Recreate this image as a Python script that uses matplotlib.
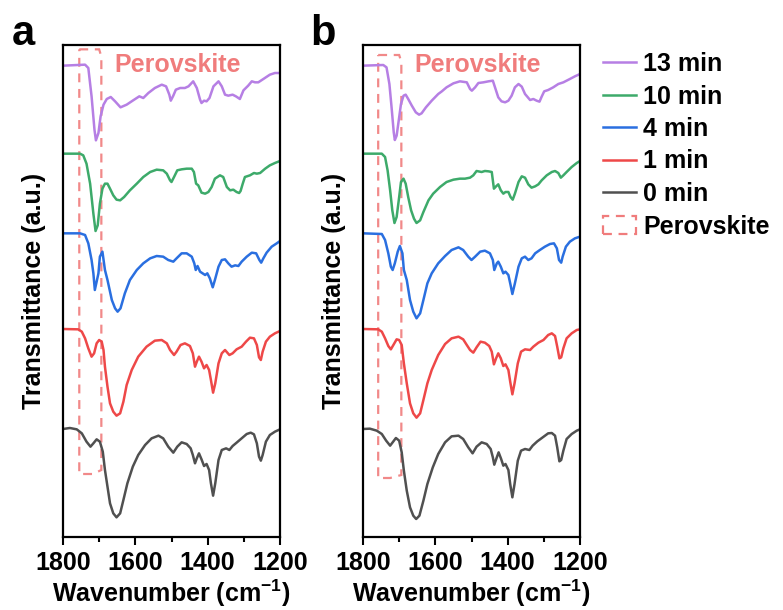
import matplotlib
matplotlib.use('Agg')
import matplotlib.pyplot as plt
from matplotlib.patches import Polygon, Patch
from matplotlib.lines import Line2D

# ---------------- data (wavenumber in cm-1, transmittance in a.u.) ----------------
LABELS = ['13 min', '10 min', '4 min', '1 min', '0 min']
OFFSETS = [1090, 826, 587, 300, 0]

# panel a
A13_WN = [1800,1739,1730,1721,1713,1709,1702,1696,1688,1679,1668,1656,1641,1624,1606,1589,1578,1564,1546,1527,1515,1506,1502,1495,1488,1476,1463,1453,1440,1430,1421,1417,1410,1403,1395,1384,1370,1361,1352,1343,1331,1322,1315,1311,1306,1301,1288,1278,1269,1260,1246,1228,1214,1200]
A13_T = [0,3,-7,-92,-192,-224,-202,-152,-117,-100,-94,-107,-125,-117,-104,-92,-97,-82,-67,-57,-62,-87,-105,-90,-72,-67,-67,-62,-47,-67,-102,-112,-105,-107,-97,-62,-47,-62,-87,-90,-87,-92,-97,-100,-87,-74,-60,-47,-50,-50,-40,-27,-22,-22]

A10_WN = [1800,1753,1744,1735,1725,1716,1710,1704,1698,1691,1684,1677,1670,1661,1652,1642,1631,1615,1596,1578,1559,1541,1523,1513,1504,1500,1493,1484,1472,1458,1444,1438,1432,1426,1417,1407,1398,1389,1380,1366,1357,1347,1338,1329,1320,1313,1309,1303,1297,1283,1272,1264,1255,1241,1228,1214,1200]
A10_T = [0,0,-5,-30,-90,-180,-232,-215,-150,-105,-90,-90,-105,-125,-138,-140,-130,-110,-90,-70,-55,-48,-50,-60,-80,-85,-70,-50,-47,-45,-45,-55,-90,-95,-117,-120,-115,-100,-75,-65,-70,-100,-110,-108,-115,-118,-112,-90,-70,-65,-58,-60,-58,-45,-35,-28,-22]

A4_WN = [1800,1753,1739,1730,1721,1716,1712,1702,1698,1691,1684,1677,1665,1656,1649,1641,1629,1615,1596,1578,1559,1541,1523,1509,1495,1486,1472,1458,1444,1437,1433,1428,1421,1414,1407,1401,1394,1386,1380,1370,1361,1352,1343,1334,1324,1315,1306,1292,1278,1266,1257,1252,1246,1237,1223,1209,1200]
A4_T = [0,0,-5,-30,-80,-120,-170,-120,-70,-55,-110,-140,-200,-225,-235,-225,-180,-140,-110,-90,-75,-68,-70,-80,-85,-75,-60,-60,-70,-90,-110,-98,-115,-120,-125,-120,-135,-162,-140,-100,-80,-78,-90,-100,-96,-98,-85,-70,-58,-60,-80,-88,-75,-58,-40,-30,-23]

A1_WN = [1800,1758,1748,1739,1730,1721,1714,1707,1700,1693,1688,1684,1677,1670,1661,1652,1642,1633,1624,1610,1592,1569,1546,1527,1513,1504,1493,1486,1475,1463,1449,1441,1435,1430,1424,1417,1410,1403,1396,1391,1385,1379,1370,1361,1352,1340,1331,1320,1306,1294,1283,1272,1264,1258,1253,1248,1239,1228,1214,1200]
A1_T = [0,-1,-8,-28,-58,-83,-73,-43,-33,-38,-63,-113,-173,-223,-248,-260,-253,-218,-168,-123,-83,-53,-35,-33,-43,-63,-78,-68,-48,-43,-51,-73,-113,-98,-83,-98,-118,-108,-123,-153,-191,-163,-103,-73,-63,-78,-73,-61,-53,-38,-26,-28,-48,-85,-93,-68,-38,-23,-13,-6]

A0_WN = [1800,1781,1762,1748,1735,1724,1716,1707,1698,1690,1684,1677,1670,1661,1652,1642,1633,1622,1607,1592,1573,1555,1536,1523,1509,1495,1484,1472,1458,1447,1441,1435,1430,1424,1417,1410,1403,1396,1391,1385,1379,1370,1361,1349,1340,1331,1320,1306,1292,1281,1272,1264,1258,1253,1248,1239,1228,1214,1200]
A0_T = [0,3,-1,-13,-38,-53,-43,-31,-38,-68,-123,-173,-223,-253,-265,-253,-213,-163,-113,-78,-48,-28,-20,-28,-53,-71,-53,-40,-45,-58,-78,-103,-88,-73,-91,-111,-105,-123,-163,-200,-163,-93,-63,-58,-63,-51,-41,-28,-15,-11,-16,-43,-83,-95,-78,-38,-18,-8,-1]

# panel b
B13_WN = [1800,1744,1735,1727,1721,1715,1712,1707,1700,1695,1688,1682,1675,1665,1654,1645,1638,1626,1610,1592,1582,1569,1550,1532,1513,1504,1499,1490,1481,1467,1453,1441,1435,1426,1417,1407,1398,1389,1380,1370,1361,1352,1338,1329,1320,1312,1306,1299,1288,1274,1260,1246,1228,1214,1200]
B13_T = [0,2,-5,-55,-125,-200,-223,-210,-155,-115,-90,-87,-100,-120,-140,-147,-143,-125,-105,-85,-77,-65,-53,-47,-50,-70,-75,-65,-52,-50,-47,-45,-65,-95,-107,-110,-105,-90,-65,-55,-63,-85,-103,-100,-105,-108,-93,-77,-73,-65,-55,-50,-40,-32,-25]

B10_WN = [1800,1748,1739,1732,1725,1719,1713,1707,1700,1695,1688,1682,1675,1667,1659,1652,1642,1633,1619,1606,1587,1569,1550,1532,1518,1504,1495,1486,1472,1463,1453,1444,1438,1432,1426,1419,1412,1406,1398,1392,1386,1380,1370,1361,1352,1343,1334,1324,1315,1306,1292,1278,1269,1260,1253,1246,1237,1223,1209,1200]
B10_T = [0,0,-10,-50,-110,-170,-208,-190,-130,-85,-75,-90,-130,-170,-195,-208,-200,-175,-140,-120,-100,-85,-78,-75,-75,-72,-65,-52,-55,-52,-53,-55,-105,-98,-92,-110,-120,-115,-115,-130,-138,-120,-85,-68,-72,-92,-102,-98,-92,-80,-65,-55,-52,-58,-72,-65,-55,-40,-28,-22]

B4_WN = [1800,1748,1739,1730,1723,1718,1712,1704,1698,1691,1687,1679,1670,1661,1652,1642,1633,1622,1610,1592,1573,1555,1536,1523,1509,1500,1490,1476,1463,1449,1441,1437,1430,1426,1419,1412,1406,1398,1392,1387,1380,1370,1361,1352,1343,1334,1324,1311,1297,1283,1272,1264,1258,1252,1248,1239,1228,1214,1200]
B4_T = [0,-2,-20,-60,-100,-110,-90,-55,-38,-60,-110,-140,-200,-235,-255,-240,-200,-150,-120,-90,-68,-50,-42,-50,-70,-80,-70,-55,-52,-60,-80,-110,-90,-85,-100,-120,-115,-125,-155,-182,-150,-100,-75,-70,-80,-75,-60,-50,-40,-32,-30,-45,-80,-88,-70,-40,-25,-15,-10]

B1_WN = [1800,1758,1748,1739,1730,1723,1716,1707,1700,1693,1687,1679,1670,1661,1652,1642,1633,1622,1610,1592,1573,1555,1536,1523,1513,1504,1495,1486,1475,1463,1451,1444,1438,1432,1426,1419,1412,1406,1398,1393,1387,1381,1372,1363,1352,1338,1329,1315,1301,1288,1278,1269,1263,1257,1252,1246,1237,1223,1209,1200]
B1_T = [0,-1,-8,-28,-51,-61,-48,-31,-33,-48,-103,-163,-223,-253,-266,-253,-213,-163,-123,-78,-45,-28,-23,-31,-48,-63,-71,-55,-38,-41,-51,-68,-106,-88,-73,-88,-111,-106,-123,-158,-196,-163,-103,-68,-61,-63,-53,-41,-33,-18,-13,-21,-53,-88,-85,-58,-28,-13,-3,-1]

B0_WN = [1800,1781,1762,1748,1736,1725,1718,1709,1700,1693,1687,1679,1670,1661,1653,1644,1633,1622,1607,1592,1573,1555,1536,1523,1509,1497,1486,1472,1458,1447,1441,1437,1430,1425,1418,1412,1406,1398,1393,1387,1381,1372,1363,1352,1340,1331,1318,1303,1288,1278,1269,1263,1257,1252,1246,1237,1223,1209,1200]
B0_T = [0,1,-5,-15,-35,-50,-40,-27,-35,-70,-125,-185,-235,-260,-270,-260,-215,-165,-115,-75,-40,-22,-20,-30,-55,-73,-53,-40,-45,-60,-85,-107,-85,-70,-90,-110,-105,-123,-165,-205,-165,-95,-65,-60,-63,-50,-37,-25,-13,-12,-20,-55,-97,-93,-65,-30,-15,-5,-1]

# perovskite highlight region (wavenumber, a.u.)
BOX_A_WN = [1755, 1700, 1694, 1694, 1717, 1755]
BOX_A_Y = [1139, 1139, 1117, -123, -135, -135]
BOX_B_WN = [1758, 1700, 1694, 1694, 1725, 1758]
BOX_B_Y = [1122, 1122, 1101, -138, -147, -147]

XTICKS = [1800, 1600, 1400, 1200]
XMINOR = [1700, 1500, 1300]

# ---------------- style ----------------
COLORS = ['#B67FE4', '#3DAA6A', '#2A6FE0', '#EE4848', '#505050']
BOX_COLOR = '#F07C7C'

plt.rcParams['font.family'] = ['Liberation Sans', 'DejaVu Sans']
plt.rcParams['font.weight'] = 'bold'
plt.rcParams['mathtext.fontset'] = 'custom'
plt.rcParams['mathtext.rm'] = 'Liberation Sans:bold'
plt.rcParams['mathtext.bf'] = 'Liberation Sans:bold'
plt.rcParams['mathtext.default'] = 'bf'

FS = 18
LW = 1.8
W, H = 783, 610
fig = plt.figure(figsize=(W / 100, H / 100), dpi=100)

panels = [
    (63, 'a', [(A13_WN, A13_T), (A10_WN, A10_T), (A4_WN, A4_T), (A1_WN, A1_T), (A0_WN, A0_T)], BOX_A_WN, BOX_A_Y),
    (363, 'b', [(B13_WN, B13_T), (B10_WN, B10_T), (B4_WN, B4_T), (B1_WN, B1_T), (B0_WN, B0_T)], BOX_B_WN, BOX_B_Y),
]

for left_px, letter, series, bwn, by in panels:
    ax = fig.add_axes([left_px / W, 1 - 537 / H, 217 / W, 492 / H])
    for (wn, t), off, col, lab in zip(series, OFFSETS, COLORS, LABELS):
        ax.plot(wn, [v + off for v in t], color=col, lw=LW, label=lab,
                solid_joinstyle='round', solid_capstyle='round')
    poly = Polygon(list(zip(bwn, by)), closed=True, fill=False, edgecolor=BOX_COLOR,
                   lw=1.6, linestyle=(0, (4, 3)), alpha=0.9)
    ax.add_patch(poly)
    ax.text(1482, 1092, 'Perovskite', color=BOX_COLOR, fontsize=FS, fontweight='bold',
            ha='center', va='center')
    ax.set_xlim(1800, 1200)
    ax.set_ylim(-324, 1152)
    ax.set_xticks(XTICKS)
    ax.set_xticks(XMINOR, minor=True)
    ax.set_yticks([])
    ax.tick_params(axis='x', which='major', direction='out', length=6, width=1.5,
                   labelsize=FS, pad=4)
    ax.tick_params(axis='x', which='minor', direction='out', length=3.5, width=1.5)
    for sp in ax.spines.values():
        sp.set_linewidth(1.6)
    ax.set_xlabel(r'Wavenumber (cm$^{-1}$)', fontsize=FS, fontweight='bold', labelpad=2)
    ax.set_ylabel('Transmittance (a.u.)', fontsize=FS, fontweight='bold', labelpad=12)
    fig.text((left_px - 40) / W, 1 - 34 / H, letter, fontsize=30, fontweight='bold',
             ha='center', va='center')

handles = [Line2D([], [], color=c, lw=LW) for c in COLORS]
handles.append(Patch(facecolor='none', edgecolor=BOX_COLOR, lw=1.6, linestyle=(0, (4, 3))))
leg = fig.legend(handles, LABELS + ['Perovskite'], loc='upper left',
                 bbox_to_anchor=(603 / W, 1 - 52 / H), frameon=False,
                 fontsize=FS, handlelength=1.3, handletextpad=0.3, labelspacing=0.34,
                 borderpad=0, borderaxespad=0)

fig.savefig('out.png', dpi=100)
